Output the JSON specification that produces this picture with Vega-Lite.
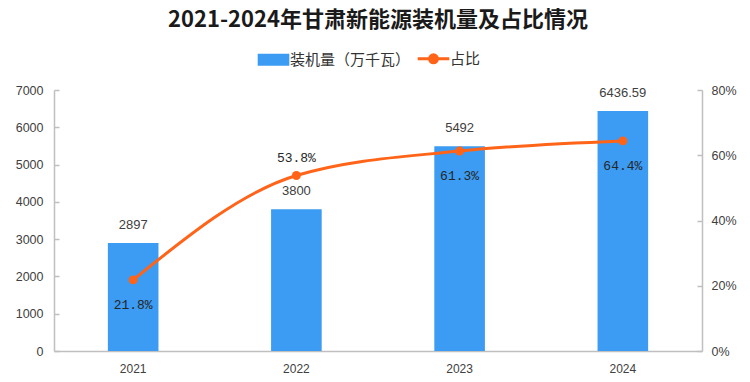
{
  "$schema": "https://vega.github.io/schema/vega-lite/v6.json",
  "autosize": "none",
  "width": 648,
  "height": 261,
  "padding": {"left": 54, "top": 90, "right": 48, "bottom": 31},
  "background": "white",
  "title": {
    "text": "2021-2024年甘肃新能源装机量及占比情况",
    "font": "Noto Sans CJK SC",
    "fontSize": 22,
    "fontWeight": "bold",
    "color": "#1a1a1a",
    "anchor": "middle",
    "frame": "group",
    "offset": 19
  },
  "config": {
    "view": {"stroke": null},
    "axis": {
      "labelFont": "Liberation Sans",
      "labelColor": "#404040",
      "labelFontSize": 13,
      "domainColor": "#BFBFBF",
      "tickColor": "#BFBFBF",
      "domainWidth": 1.5,
      "grid": false,
      "title": null,
      "labelOverlap": false
    }
  },
  "data": {
    "values": [
      {"year": "2021", "value": 2897, "label": "2897", "pct": 0.218},
      {"year": "2022", "value": 3800, "label": "3800", "pct": 0.538},
      {"year": "2023", "value": 5492, "label": "5492", "pct": 0.613},
      {"year": "2024", "value": 6436.59, "label": "6436.59", "pct": 0.644}
    ]
  },
  "encoding": {
    "x": {
      "field": "year",
      "type": "ordinal",
      "scale": {"paddingInner": 0.69, "paddingOuter": 0.33},
      "axis": {"labelAngle": 0, "ticks": false, "labelPadding": 12, "labelFontSize": 12}
    }
  },
  "layer": [
    {
      "encoding": {
        "y": {
          "field": "value",
          "type": "quantitative",
          "scale": {"domain": [0, 7000]},
          "axis": {"orient": "left", "values": [0, 1000, 2000, 3000, 4000, 5000, 6000, 7000], "ticks": true, "tickSize": -5, "tickWidth": 1.5, "labelPadding": 16, "format": "d", "labelOverlap": false, "labelFontSize": 12.5}
        }
      },
      "layer": [
        {
          "mark": {"type": "bar"},
          "encoding": {
            "color": {
              "datum": "装机量（万千瓦）",
              "type": "nominal",
              "scale": {"domain": ["装机量（万千瓦）", "占比"], "range": ["#3C9BF2", "#FF6418"]},
              "legend": {
                "orient": "none",
                "legendX": 212,
                "legendY": -39,
                "direction": "horizontal",
                "title": null,
                "labelFont": "Noto Sans CJK SC",
                "labelFontSize": 15,
                "labelColor": "#333333",
                "labelOffset": 9,
                "columnPadding": 0,
                "symbolSize": 1000,
                "encode": {
                  "symbols": {
                    "update": {
                      "shape": {"signal": "datum.value === '占比' ? 'M-1,0L1,0M-0.25,0A0.25,0.25,0,1,1,0.25,0A0.25,0.25,0,1,1,-0.25,0Z' : 'M-1,-0.38L1,-0.38L1,0.38L-1,0.38Z'"},
                      "fill": {"signal": "datum.value === '占比' ? '#FF6418' : '#3C9BF2'"},
                      "stroke": {"signal": "datum.value === '占比' ? '#FF6418' : '#3C9BF2'"},
                      "strokeWidth": {"signal": "datum.value === '占比' ? 3 : 0"},
                      "size": {"value": 1000},
                      "opacity": {"value": 1},
                      "fillOpacity": {"value": 1}
                    }
                  }
                }
              }
            }
          }
        },
        {
          "mark": {"type": "text", "font": "Liberation Sans", "fontSize": 13, "color": "#404040", "dy": -18, "baseline": "middle"},
          "encoding": {
            "text": {"field": "label", "type": "nominal"}
          }
        }
      ]
    },
    {
      "encoding": {
        "y": {
          "field": "pct",
          "type": "quantitative",
          "scale": {"domain": [0, 0.8]},
          "axis": {"orient": "right", "values": [0, 0.2, 0.4, 0.6, 0.8], "format": ".0%", "ticks": true, "tickSize": -5, "tickWidth": 1.5, "labelPadding": 14, "labelOverlap": false, "labelFontSize": 12.5}
        }
      },
      "layer": [
        {
          "mark": {"type": "line", "interpolate": "monotone", "strokeWidth": 3, "point": {"filled": true, "size": 80, "color": "#FF6418"}},
          "encoding": {
            "color": {"datum": "占比", "type": "nominal"}
          }
        },
        {
          "transform": [{"filter": "datum.year !== '2022'"}],
          "mark": {"type": "text", "font": "Liberation Mono", "fontSize": 13, "color": "#262626", "dy": 25, "baseline": "middle"},
          "encoding": {
            "text": {"field": "pct", "type": "quantitative", "format": ".1%"}
          }
        },
        {
          "transform": [{"filter": "datum.year === '2022'"}],
          "mark": {"type": "text", "font": "Liberation Mono", "fontSize": 13, "color": "#262626", "dy": -17, "baseline": "middle"},
          "encoding": {
            "text": {"field": "pct", "type": "quantitative", "format": ".1%"}
          }
        }
      ]
    }
  ],
  "resolve": {"scale": {"y": "independent"}}
}
